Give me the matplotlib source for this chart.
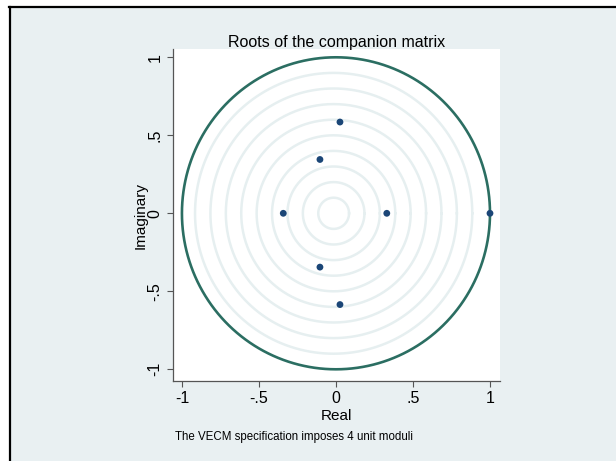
import numpy as np
import matplotlib.pyplot as plt
from matplotlib.patches import Rectangle
from matplotlib.lines import Line2D

# eigenvalues
real = [1.0, 0.33, -0.342, -0.104, -0.104, 0.026, 0.026]
imag = [0.0, 0.0, 0.0, 0.345, -0.345, 0.585, -0.585]
rings = [0.1, 0.2, 0.3, 0.4, 0.5, 0.6, 0.7, 0.8, 0.9]
xticks = [-1, -0.5, 0, 0.5, 1]
ticklabels = ['-1', '-.5', '0', '.5', '1']

plt.rcParams['font.family'] = ['Liberation Sans', 'DejaVu Sans']

bg = '#e9f0f2'
fig = plt.figure(figsize=(6.16, 4.61), dpi=100)
fig.patch.set_facecolor('white')
W, H = 616, 461
# stata-ish graph region with black frame on top/left
fig.add_artist(Rectangle((10 / W, 0), 1, 1 - 8 / H, transform=fig.transFigure,
                         facecolor=bg, edgecolor='none', zorder=-5))
fig.add_artist(Line2D([9 / W, 1], [1 - 7.5 / H, 1 - 7.5 / H], transform=fig.transFigure,
                      color='black', lw=1.6))
fig.add_artist(Line2D([9.5 / W, 9.5 / W], [0, 1 - 7.5 / H], transform=fig.transFigure,
                      color='black', lw=1.6))

ax = fig.add_axes([173 / W, 80 / H, 327 / W, 331.5 / H])
ax.set_facecolor('white')

t = np.linspace(0, 2 * np.pi, 361)
for r in rings:
    ax.plot(r * np.cos(t) - 0.015, r * np.sin(t), color='#e6eff0', lw=1.8, zorder=1)
ax.plot(np.cos(t), np.sin(t), color='#2b6e62', lw=1.9, zorder=2)
ax.scatter(real, imag, s=24, color='#1b4677', zorder=3, edgecolors='none')

ax.set_xlim(-1.058, 1.065)
ax.set_ylim(-1.075, 1.05)
ax.set_xticks(xticks)
ax.set_xticklabels(ticklabels)
ax.set_yticks(xticks)
ax.set_yticklabels(ticklabels, rotation=90, va='center')
ax.tick_params(axis='both', colors='#555555', labelcolor='black', labelsize=11.5,
               length=4, width=0.8)
for s in ['top', 'right']:
    ax.spines[s].set_visible(False)
for s in ['left', 'bottom']:
    ax.spines[s].set_color('#555555')
    ax.spines[s].set_linewidth(0.9)

ax.set_xlabel('Real', fontsize=11, labelpad=2)
ax.set_ylabel('Imaginary', fontsize=11, labelpad=0)
ax.set_title('Roots of the companion matrix', fontsize=11.5, pad=2)
fig.text(175 / W, 1 - 437 / H, 'The VECM specification imposes 4 unit moduli',
         fontsize=8.3, va='center', ha='left')

fig.savefig('out.png', dpi=100)
